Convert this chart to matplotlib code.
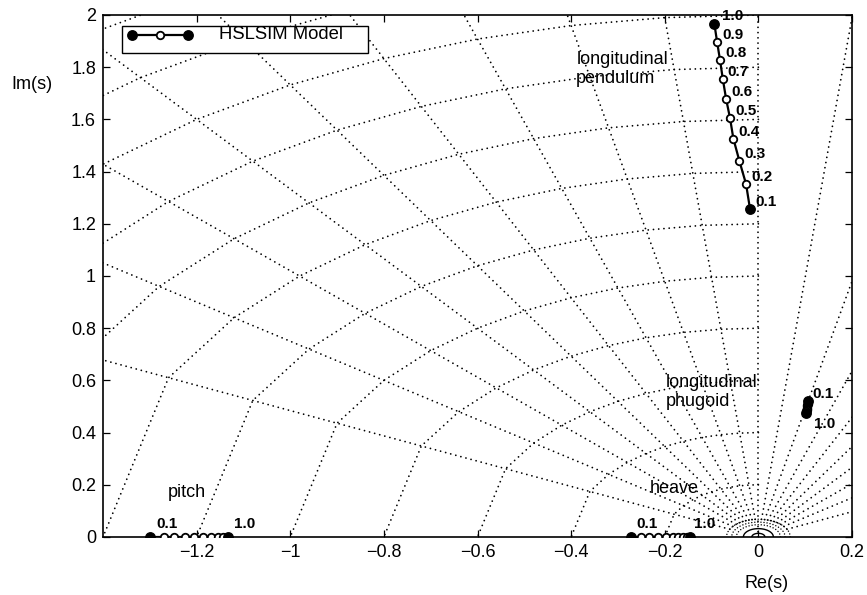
import numpy as np
import matplotlib
matplotlib.use("Agg")
import matplotlib.pyplot as plt
from matplotlib.patches import Rectangle

plt.rcParams['font.family'] = ['Liberation Sans', 'DejaVu Sans']

# ---------------- data ----------------
gain_labels = ["0.1", "0.2", "0.3", "0.4", "0.5", "0.6", "0.7", "0.8", "0.9", "1.0"]

pend_x = [-0.0177, -0.0263, -0.0406, -0.0534, -0.0605, -0.0690, -0.0760, -0.0820, -0.0882, -0.0940]
pend_y = [1.255, 1.352, 1.441, 1.526, 1.604, 1.679, 1.755, 1.828, 1.897, 1.966]

phug_x = [0.106, 0.1056, 0.1051, 0.1047, 0.1042, 0.1038, 0.1034, 0.1029, 0.1025, 0.102]
phug_y = [0.521, 0.516, 0.511, 0.506, 0.501, 0.496, 0.491, 0.486, 0.481, 0.476]

heave_x = [-0.272, -0.251, -0.233, -0.215, -0.197, -0.183, -0.171, -0.162, -0.153, -0.146]
heave_y = [0.0] * 10

pitch_x = [-1.299, -1.269, -1.248, -1.224, -1.205, -1.186, -1.170, -1.155, -1.143, -1.132]
pitch_y = [0.0] * 10

# s-plane grid definition
grid_zeta = [0.0, 0.1, 0.2, 0.3, 0.4, 0.5, 0.6, 0.7, 0.8, 0.9, 1.0]
grid_wn = [0.2, 0.4, 0.6, 0.8, 1.0, 1.2, 1.4, 1.6, 1.8, 2.0, 2.2, 2.4, 2.6]
small_solid_wn = [0.014, 0.032]
small_dotted_wn = [0.047, 0.057, 0.068]

xticks = [-1.2, -1.0, -0.8, -0.6, -0.4, -0.2, 0.0, 0.2]
xticklabels = ["\u22121.2", "\u22121", "\u22120.8", "\u22120.6", "\u22120.4", "\u22120.2", "0", "0.2"]
yticks = [0, 0.2, 0.4, 0.6, 0.8, 1.0, 1.2, 1.4, 1.6, 1.8, 2.0]
yticklabels = ["0", "0.2", "0.4", "0.6", "0.8", "1", "1.2", "1.4", "1.6", "1.8", "2"]

# ---------------- figure ----------------
fig = plt.figure(figsize=(8.67, 5.95), dpi=100)
ax = fig.add_axes([0.1188, 0.0975, 0.8639, 0.8773])
ax.set_xlim(-1.4, 0.2)
ax.set_ylim(0, 2)

dot = dict(color='black', lw=1.3, linestyle=(0, (0.01, 2.9)), dash_capstyle='round',
           solid_capstyle='round', zorder=1)

# damping rays (both half planes)
z = np.array(grid_zeta)
r_start = small_dotted_wn[-1]
r_end = grid_wn[-1]
for zz in grid_zeta[:-1]:
    s = np.sqrt(1 - zz ** 2)
    r0 = 0.0 if zz == 0 else r_start
    ax.plot([-zz * r0, -zz * r_end], [s * r0, s * r_end], **dot)
    if zz > 0:
        ax.plot([zz * r0, zz * r_end], [s * r0, s * r_end], **dot)

# natural-frequency polylines (left half plane)
for w in grid_wn:
    ax.plot(-w * z, w * np.sqrt(1 - z ** 2), **dot)

# small arcs around the origin
th = np.linspace(0, np.pi, 60)
for w in small_solid_wn:
    ax.plot(w * np.cos(th), w * np.sin(th), color='black', lw=1.0, zorder=1)
for w in small_dotted_wn:
    ax.plot(w * np.cos(th), w * np.sin(th), color='black', lw=1.1,
            linestyle=(0, (0.01, 2.0)), dash_capstyle='round', zorder=1)

# ---------------- loci ----------------
def locus(xs, ys):
    ax.plot(xs, ys, color='black', lw=1.6, zorder=3)
    ax.plot(xs[1:-1], ys[1:-1], linestyle='none', marker='o', ms=5.4,
            mfc='white', mec='black', mew=1.3, zorder=4)
    ax.plot([xs[0], xs[-1]], [ys[0], ys[-1]], linestyle='none', marker='o',
            ms=6.8, mfc='black', mec='black', zorder=5)

for xs, ys in [(pend_x, pend_y), (phug_x, phug_y), (heave_x, heave_y), (pitch_x, pitch_y)]:
    locus(xs, ys)

lab = dict(fontsize=11, fontweight='bold', textcoords='offset pixels', ha='left',
           va='baseline', zorder=6)
for i, t in enumerate(gain_labels):
    off = (8, 4) if i == 9 else (5, 3)
    ax.annotate(t, (pend_x[i], pend_y[i]), xytext=off, **lab)

ax.annotate(gain_labels[0], (phug_x[0], phug_y[0]), xytext=(4, 3), **lab)
ax.annotate(gain_labels[-1], (phug_x[-1], phug_y[-1]), xytext=(8, -15), **lab)
ax.annotate(gain_labels[0], (heave_x[0], heave_y[0]), xytext=(5, 9), **lab)
ax.annotate(gain_labels[-1], (heave_x[-1], heave_y[-1]), xytext=(4, 9), **lab)
ax.annotate(gain_labels[0], (pitch_x[0], pitch_y[0]), xytext=(6, 9), **lab)
ax.annotate(gain_labels[-1], (pitch_x[-1], pitch_y[-1]), xytext=(6, 9), **lab)

txt = dict(fontsize=13, ha='left', va='baseline', zorder=6, linespacing=1.15)
ax.text(-0.389, 1.738, "longitudinal\npendulum", **txt)
ax.text(-0.197, 0.502, "longitudinal\nphugoid", **txt)
ax.text(-0.233, 0.167, "heave", **txt)
ax.text(-1.261, 0.154, "pitch", **txt)

# ---------------- legend (drawn by hand) ----------------
ax.add_patch(Rectangle((0.025, 0.927), 0.329, 0.051, transform=ax.transAxes,
                       facecolor='white', edgecolor='black', lw=1.0, zorder=7))
ax.plot([0.0383, 0.114], [0.962, 0.962], transform=ax.transAxes, color='black',
        lw=1.6, zorder=8)
ax.plot([0.0383, 0.114], [0.962, 0.962], transform=ax.transAxes, linestyle='none',
        marker='o', ms=6.8, mfc='black', mec='black', zorder=9)
ax.plot([0.076], [0.962], transform=ax.transAxes, linestyle='none', marker='o',
        ms=5.4, mfc='white', mec='black', mew=1.3, zorder=9)
ax.text(0.155, 0.962, "HSLSIM Model", transform=ax.transAxes, fontsize=13.3,
        ha='left', va='center', zorder=9)

# ---------------- axes styling ----------------
ax.set_xticks(xticks)
ax.set_xticklabels(xticklabels)
ax.set_yticks(yticks)
ax.set_yticklabels(yticklabels)
ax.tick_params(direction='in', top=True, right=True, length=5, width=0.9,
               labelsize=13, pad=5)
for sp in ax.spines.values():
    sp.set_linewidth(1.2)

ax.set_xlabel("Re(s)", fontsize=13)
ax.xaxis.set_label_coords(0.8865, -0.072)
ax.set_ylabel("Im(s)", fontsize=13, rotation=0, ha='center', va='center')
ax.yaxis.set_label_coords(-0.095, 0.866)

fig.savefig("out.png", dpi=100)
